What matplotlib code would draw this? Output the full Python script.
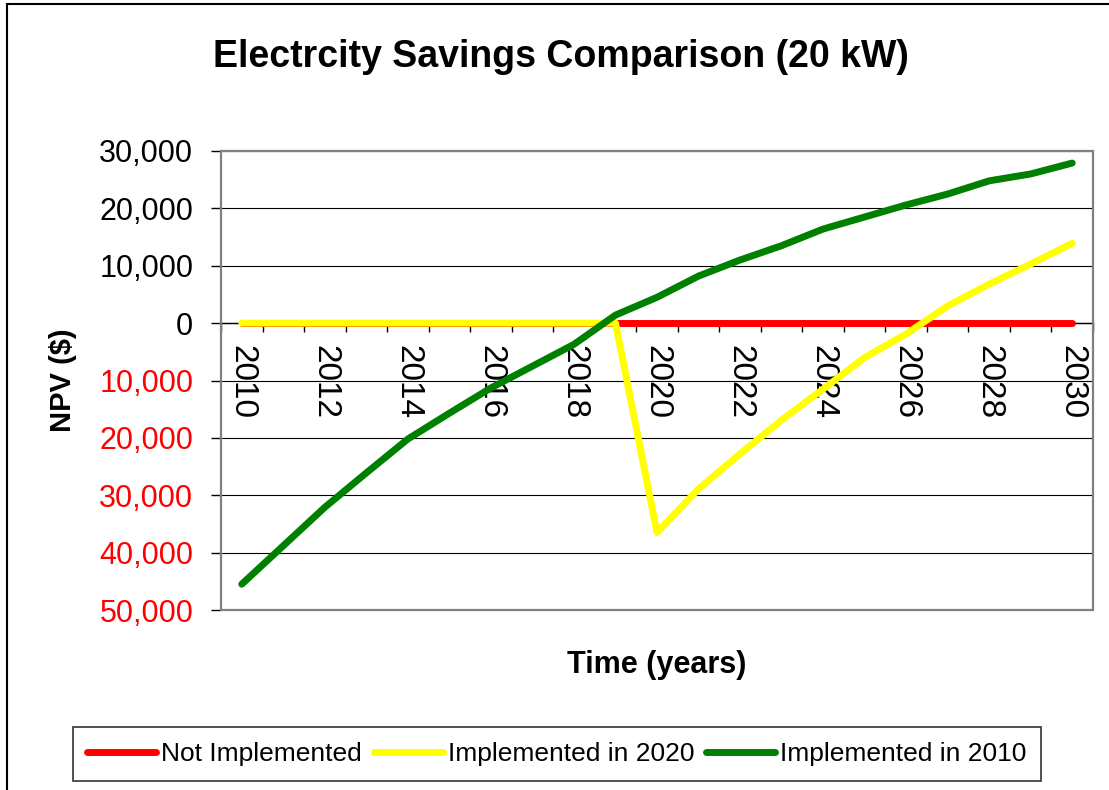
import matplotlib.pyplot as plt
from matplotlib.patches import Rectangle

plt.rcParams['font.family'] = ['Liberation Sans', 'DejaVu Sans']

# Data
years = list(range(2010, 2031))
not_implemented = [0] * 21
impl_2020 = [0, 0, 0, 0, 0, 0, 0, 0, 0, 0,
             -36500, -28900, -22800, -16900, -11500, -6000, -1900, 3000, 6800, 10300, 13900]
impl_2010 = [-45500, -38800, -32100, -26100, -20200, -15700, -11300, -7500, -3700, 1400,
             4500, 8200, 11000, 13500, 16400, 18500, 20600, 22500, 24800, 26000, 27900]
yticks = [30000, 20000, 10000, 0, -10000, -20000, -30000, -40000, -50000]

W, H = 1109, 790
fig = plt.figure(figsize=(W / 100, H / 100), dpi=100)
ax = fig.add_axes([221 / W, 1 - 610 / H, (1093 - 221) / W, (610 - 151) / H])

x = list(range(len(years)))
ax.plot(x, not_implemented, color='#ff0000', lw=5, solid_capstyle='round',
        label='Not Implemented', zorder=3)
ax.plot(x, impl_2020, color='#ffff00', lw=5, solid_capstyle='round',
        label='Implemented in 2020', zorder=4)
ax.plot(x, impl_2010, color='#008000', lw=5, solid_capstyle='round',
        label='Implemented in 2010', zorder=5)

ax.set_xlim(-0.5, len(years) - 0.5)
ax.set_ylim(-50000, 30000)

# y axis
ax.set_yticks(yticks, labels=[f"{abs(v):,}" for v in yticks])
for lbl, v in zip(ax.get_yticklabels(), yticks):
    lbl.set_color('#ff0000' if v < 0 else 'black')
ax.tick_params(axis='y', direction='out', length=7, width=1, pad=13, labelsize=22)
ax.yaxis.grid(True, color='black', lw=0.8)
ax.set_axisbelow(True)

# x axis crosses at zero
ax.spines['bottom'].set_position(('data', 0))
ax.spines['bottom'].set_color('black')
ax.spines['bottom'].set_linewidth(1)
for s in ['left', 'right', 'top']:
    ax.spines[s].set_visible(False)
ax.add_patch(Rectangle((0, 0), 1, 1, transform=ax.transAxes, fill=False,
                       edgecolor='#808080', lw=1.6, zorder=6, clip_on=False))

ax.set_xticks(x[::2], labels=[str(y) for y in years[::2]])
ax.set_xticks([i - 0.5 for i in range(len(years) + 1)], minor=True)
ax.tick_params(axis='x', which='major', length=0, pad=16, labelsize=24, labelrotation=270)
ax.tick_params(axis='x', which='minor', direction='out', length=6.5, width=1)

ax.text(0.5, -0.12, 'Time (years)', transform=ax.transAxes, ha='center', va='center',
        fontsize=22, fontweight='bold')
fig.text(63 / W, 1 - 380 / H, 'NPV ($)', rotation=90, ha='center', va='center',
         fontsize=21, fontweight='bold')
fig.text(561 / W, 1 - 57 / H, 'Electrcity Savings Comparison (20 kW)', ha='center',
         va='center', fontsize=27, fontweight='bold')

# outer chart border
fig.patches.append(Rectangle((7 / W, -0.5), 2, 1.5 - 4 / H, transform=fig.transFigure,
                             fill=False, edgecolor='black', lw=1.5))

leg = fig.legend(loc='center', bbox_to_anchor=(557 / W, 1 - 754 / H), ncol=3,
                 fontsize=19, frameon=True, fancybox=False, edgecolor='black',
                 handlelength=2.6, handletextpad=0.2, columnspacing=0.45,
                 borderpad=0.55, borderaxespad=0)
leg.get_frame().set_linewidth(1.2)

fig.savefig('out.png', dpi=100)
